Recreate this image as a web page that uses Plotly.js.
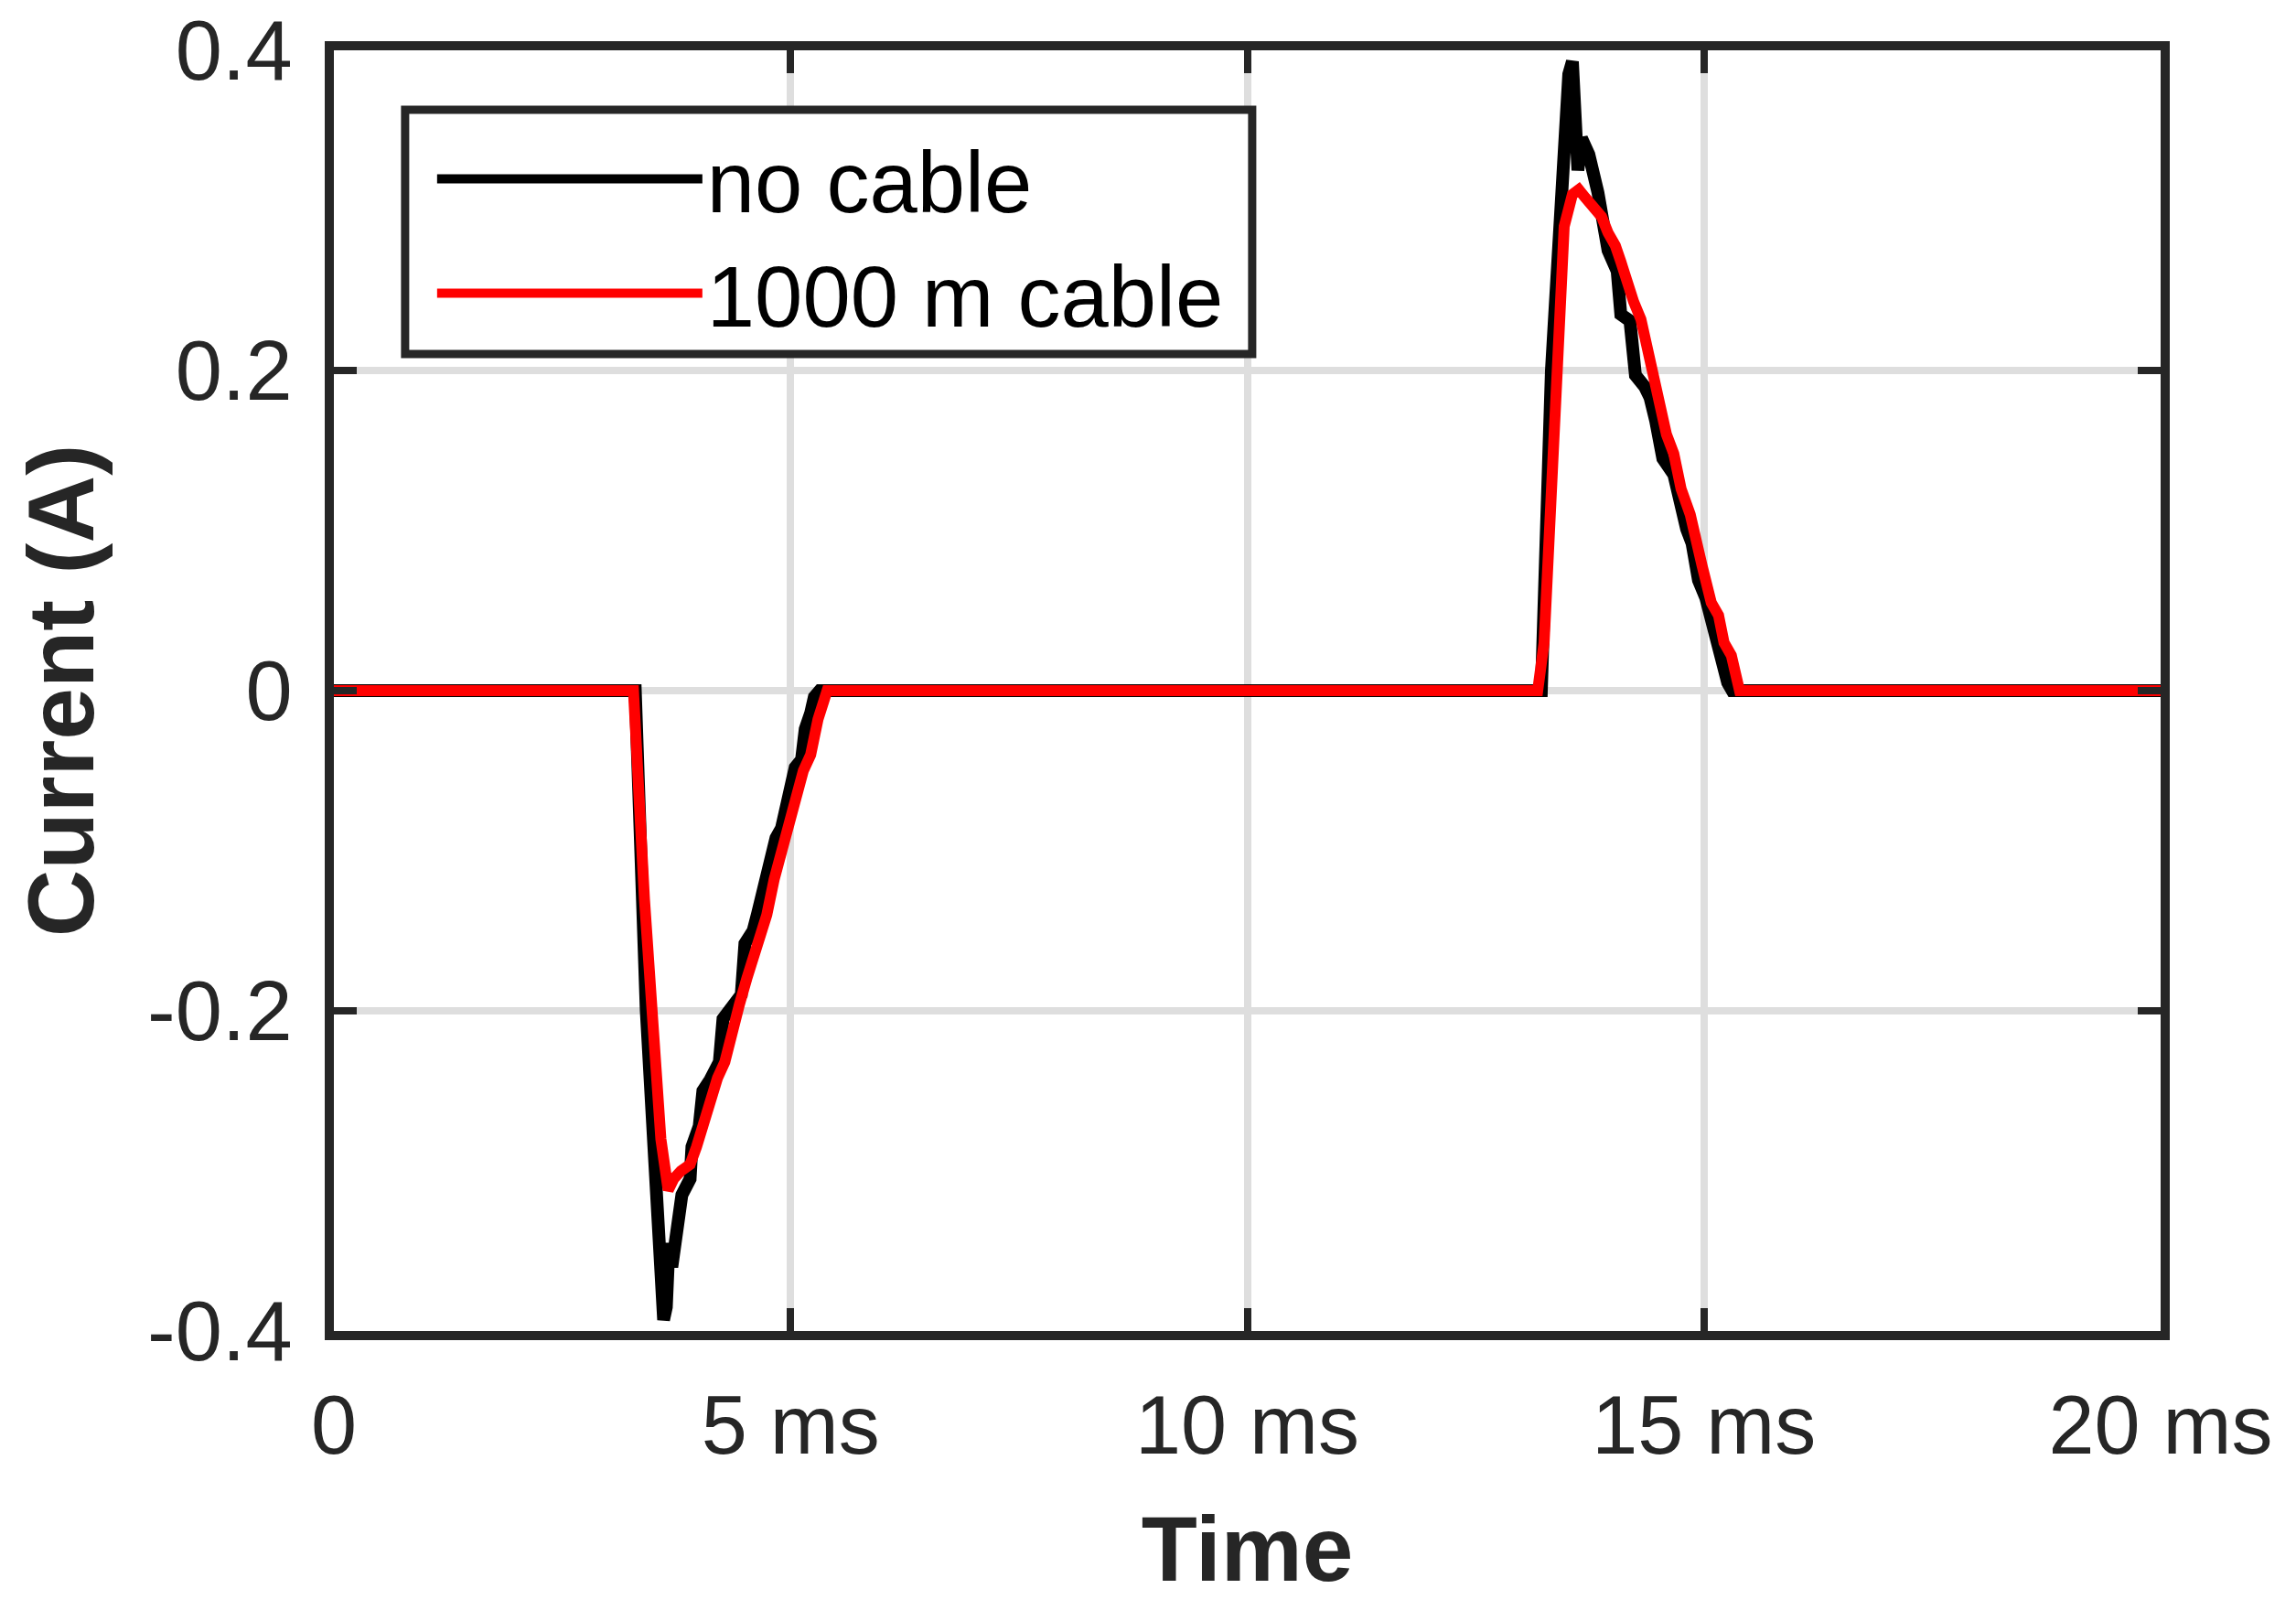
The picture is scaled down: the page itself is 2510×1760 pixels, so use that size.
<!DOCTYPE html>
<html>
<head>
<meta charset="utf-8">
<script src="https://cdn.plot.ly/plotly-3.0.1.min.js"></script>
<style>
  html, body { margin: 0; padding: 0; background: #ffffff; }
  #chart { width: 2510px; height: 1760px; }
</style>
</head>
<body>
<div id="chart"></div>
<script>
// Time (ms) and current (A)
const timeNoCable = [0, 3.30, 3.42, 3.53, 3.61, 3.64, 3.67, 3.70, 3.75, 3.81, 3.90, 3.92, 4.00, 4.04, 4.12, 4.22, 4.26, 4.37, 4.46, 4.50, 4.59, 4.64, 4.70, 4.76, 4.84, 4.90, 4.94, 4.99, 5.05, 5.12, 5.16, 5.22, 5.26, 5.32,
  13.22, 13.33, 13.44, 13.52, 13.56, 13.59, 13.62, 13.66, 13.74, 13.84, 13.91, 13.95, 14.05, 14.09, 14.19, 14.25, 14.35, 14.41, 14.47, 14.55, 14.67, 14.75, 14.81, 14.87, 14.94, 15.02, 15.12, 15.19, 15.26, 15.31, 20];
const currentNoCable = [0, 0, -0.20, -0.33, -0.393, -0.385, -0.345, -0.36, -0.33, -0.315, -0.305, -0.285, -0.272, -0.250, -0.243, -0.232, -0.205, -0.196, -0.190, -0.158, -0.150, -0.139, -0.122, -0.111, -0.092, -0.086, -0.077, -0.069, -0.048, -0.043, -0.024, -0.014, -0.004, 0,
  0, 0.20, 0.33, 0.385, 0.393, 0.36, 0.325, 0.345, 0.335, 0.311, 0.288, 0.275, 0.262, 0.235, 0.231, 0.197, 0.190, 0.183, 0.169, 0.145, 0.135, 0.112, 0.101, 0.092, 0.069, 0.058, 0.037, 0.016, 0.005, 0, 0];

const timeCable = [0, 3.28, 3.40, 3.50, 3.58, 3.66, 3.72, 3.80, 3.90, 3.97, 4.04, 4.12, 4.20, 4.28, 4.36, 4.44, 4.52, 4.60, 4.66, 4.74, 4.82, 4.90, 4.98, 5.06, 5.14, 5.22, 5.30, 5.40,
  13.18, 13.25, 13.38, 13.47, 13.56, 13.63, 13.70, 13.80, 13.88, 13.95, 14.03, 14.09, 14.17, 14.23, 14.31, 14.37, 14.45, 14.52, 14.59, 14.67, 14.75, 14.85, 14.92, 14.98, 15.08, 15.16, 15.22, 15.30, 15.39, 20];
const currentCable = [0, 0, -0.13, -0.22, -0.28, -0.312, -0.305, -0.300, -0.296, -0.285, -0.270, -0.258, -0.242, -0.232, -0.212, -0.196, -0.180, -0.165, -0.152, -0.140, -0.118, -0.100, -0.088, -0.068, -0.050, -0.040, -0.018, 0,
  0, 0.03, 0.20, 0.29, 0.31, 0.313, 0.308, 0.300, 0.296, 0.286, 0.278, 0.268, 0.252, 0.243, 0.232, 0.215, 0.198, 0.180, 0.160, 0.148, 0.126, 0.110, 0.090, 0.078, 0.055, 0.047, 0.030, 0.022, 0, 0];

const seriesNames = ['no cable', '1000 m cable'];
const xTickVals = [0, 5, 10, 15, 20];
const xTickText = ['0', '5 ms', '10 ms', '15 ms', '20 ms'];
const yTickVals = [-0.4, -0.2, 0, 0.2, 0.4];
const yTickText = ['-0.4', '-0.2', '0', '0.2', '0.4'];

const FONT = 'Liberation Sans, Arial, Helvetica, sans-serif';
const AX = '#262626';

const traces = [
  { x: timeNoCable, y: currentNoCable, name: seriesNames[0], type: 'scatter', mode: 'lines',
    line: { color: '#000000', width: 14 } },
  { x: timeCable, y: currentCable, name: seriesNames[1], type: 'scatter', mode: 'lines',
    line: { color: '#ff0000', width: 12 } }
];

const axisCommon = {
  showgrid: true, gridcolor: '#dedede', gridwidth: 8,
  showline: true, linecolor: AX, linewidth: 10, mirror: 'ticks',
  ticks: 'inside', ticklen: 25, tickwidth: 8, tickcolor: AX,
  zeroline: false, tickmode: 'array'
};

const layout = {
  width: 2510, height: 1760,
  paper_bgcolor: '#ffffff', plot_bgcolor: '#ffffff',
  margin: { l: 365, r: 148, t: 55, b: 305 },
  showlegend: true,
  legend: {
    x: 0.054, y: 0.948, xanchor: 'left', yanchor: 'top',
    bgcolor: 'rgba(0,0,0,0)', borderwidth: 0,
    font: { family: FONT, size: 94, color: '#000000' },
    itemwidth: 290, tracegroupgap: 0
  },
  shapes: [{
    type: 'rect', xref: 'paper', yref: 'paper', layer: 'above',
    x0: 0.039, x1: 0.5027, y0: 0.7629, y1: 0.9536,
    fillcolor: '#ffffff', line: { color: AX, width: 9 }
  }],
  xaxis: Object.assign({}, axisCommon, {
    range: [0, 20], tickvals: xTickVals, ticktext: xTickText, ticklabelstandoff: 16,
    tickfont: { family: FONT, size: 90, color: AX },
    title: { text: 'Time', font: { family: FONT, size: 100, color: AX, weight: 'bold' }, standoff: 55 }
  }),
  yaxis: Object.assign({}, axisCommon, {
    range: [-0.4, 0.4], tickvals: yTickVals, ticktext: yTickText, ticklabelstandoff: 17,
    tickfont: { family: FONT, size: 92, color: AX },
    title: { text: 'Current (A)', font: { family: FONT, size: 102, color: AX, weight: 'bold' }, standoff: 28 }
  })
};

Plotly.newPlot('chart', traces, layout, { staticPlot: true, displayModeBar: false });
</script>
</body>
</html>
